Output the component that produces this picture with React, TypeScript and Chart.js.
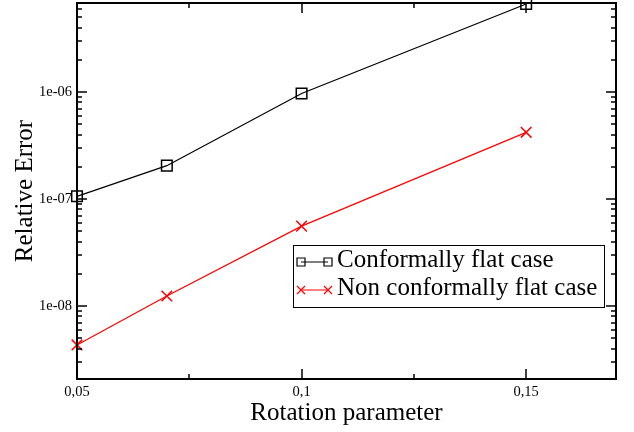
import React, { useEffect, useRef } from 'react';
import { Chart, registerables } from 'chart.js';

Chart.register(...registerables);

const rotation = [0.05, 0.07, 0.1, 0.15];
const conformal = [1.06e-7, 2.05e-7, 9.7e-7, 6.64e-6];
const nonConformal = [4.33e-9, 1.24e-8, 5.58e-8, 4.2e-7];
const seriesLabels = ['Conformally flat case', 'Non conformally flat case'];
const seriesColors = ['#000000', '#ff0000'];
const xMajorTicks = [0.05, 0.1, 0.15];
const xMinorTicks = [0.075, 0.125];
const xRange = [0.05, 0.17];
const yRange = [2.08e-9, 6.79e-6];
const xTitle = 'Rotation parameter';
const yTitle = 'Relative Error';

const FONT = "'Liberation Serif', 'Times New Roman', serif";
const SHIFT = 6; // canvas is drawn 6px above the page top

function drawMarker(ctx: CanvasRenderingContext2D, kind: string, x: number, y: number, half: number) {
  ctx.beginPath();
  if (kind === 'rect') {
    ctx.rect(x - half, y - half, half * 2, half * 2);
  } else {
    ctx.moveTo(x - half, y - half);
    ctx.lineTo(x + half, y + half);
    ctx.moveTo(x + half, y - half);
    ctx.lineTo(x - half, y + half);
  }
  ctx.stroke();
}

const framePlugin = {
  id: 'frameTicksLegend',
  afterDraw(chart: any) {
    const { ctx, chartArea: a, scales } = chart;
    ctx.save();
    ctx.strokeStyle = '#000';
    ctx.lineWidth = 2;
    ctx.strokeRect(a.left, a.top, a.right - a.left, a.bottom - a.top);

    ctx.lineWidth = 1.5;
    const seg = (x1: number, y1: number, x2: number, y2: number) => {
      ctx.beginPath();
      ctx.moveTo(x1, y1);
      ctx.lineTo(x2, y2);
      ctx.stroke();
    };
    for (const t of scales.x.ticks) {
      const px = Math.round(scales.x.getPixelForValue(t.value));
      const len = t.major ? 10 : 5;
      seg(px, a.bottom, px, a.bottom - len);
      seg(px, a.top, px, a.top + len);
    }
    for (const t of scales.y.ticks) {
      const py = Math.round(scales.y.getPixelForValue(t.value));
      if (py < a.top + 1 || py > a.bottom - 1) continue;
      const len = t.major ? 10 : 5;
      seg(a.left, py, a.left + len, py);
      seg(a.right, py, a.right - len, py);
    }

    // legend
    const bx = 293, by = 245 + SHIFT, bw = 311, bh = 62;
    ctx.fillStyle = '#fff';
    ctx.fillRect(bx, by, bw, bh);
    ctx.lineWidth = 1;
    ctx.strokeStyle = '#000';
    ctx.strokeRect(bx + 0.5, by + 0.5, bw, bh);
    const rows = [262 + SHIFT, 290 + SHIFT];
    chart.data.datasets.forEach((ds: any, i: number) => {
      const y = rows[i];
      ctx.strokeStyle = ds.borderColor;
      ctx.lineWidth = 1;
      seg(301, y, 328, y);
      ctx.lineWidth = 1.2;
      drawMarker(ctx, ds.pointStyle, 301, y, 4);
      drawMarker(ctx, ds.pointStyle, 328, y, 4);
      ctx.fillStyle = '#000';
      ctx.font = `25px ${FONT}`;
      ctx.textBaseline = 'middle';
      ctx.textAlign = 'left';
      ctx.fillText(ds.label, 337, y - 1.5);
    });
    ctx.restore();
  },
};

export default function App() {
  const ref = useRef<HTMLCanvasElement | null>(null);

  useEffect(() => {
    if (!ref.current) return;
    const chart = new Chart(ref.current, {
      type: 'line',
      data: {
        datasets: [
          {
            label: seriesLabels[0],
            data: rotation.map((x, i) => ({ x, y: conformal[i] })),
            borderColor: seriesColors[0],
            borderWidth: 1.2,
            pointStyle: 'rect',
            pointRadius: 7.5,
            pointBorderWidth: 1.5,
            pointBackgroundColor: 'rgba(0,0,0,0)',
            pointBorderColor: seriesColors[0],
            clip: false,
            tension: 0,
          },
          {
            label: seriesLabels[1],
            data: rotation.map((x, i) => ({ x, y: nonConformal[i] })),
            borderColor: seriesColors[1],
            borderWidth: 1.2,
            pointStyle: 'crossRot',
            pointRadius: 7.5,
            pointBorderWidth: 1.5,
            pointBorderColor: seriesColors[1],
            clip: false,
            tension: 0,
          },
        ],
      } as any,
      options: {
        animation: false,
        responsive: false,
        devicePixelRatio: 1,
        layout: { padding: { left: 0, top: 3, right: 18, bottom: 0 } },
        plugins: {
          legend: { display: false },
          tooltip: { enabled: false },
        },
        scales: {
          x: {
            type: 'linear',
            min: xRange[0],
            max: xRange[1],
            grid: { display: false, drawTicks: false },
            border: { display: false },
            afterBuildTicks: (scale: any) => {
              scale.ticks = [
                ...xMajorTicks.map((v) => ({ value: v, major: true })),
                ...xMinorTicks.map((v) => ({ value: v, major: false })),
              ].sort((p, q) => p.value - q.value);
            },
            afterFit: (scale: any) => {
              scale.height = 53;
              scale.paddingLeft = 0;
              scale.paddingRight = 0;
            },
            ticks: {
              autoSkip: false,
              maxRotation: 0,
              padding: 4,
              color: '#000',
              font: { family: FONT, size: 14.5 },
              callback: (v: any) =>
                xMajorTicks.some((m) => Math.abs(m - Number(v)) < 1e-9)
                  ? String(Number(v)).replace('.', ',')
                  : '',
            },
            title: {
              display: true,
              text: xTitle,
              color: '#000',
              font: { family: FONT, size: 25 },
              padding: { top: 0, bottom: 4 },
            },
          },
          y: {
            type: 'logarithmic',
            min: yRange[0],
            max: yRange[1],
            grid: { display: false, drawTicks: false },
            border: { display: false },
            afterBuildTicks: (scale: any) => {
              const ticks: any[] = [];
              const lo = Math.floor(Math.log10(scale.min));
              const hi = Math.ceil(Math.log10(scale.max));
              for (let e = lo; e <= hi; e++) {
                for (let m = 1; m <= 9; m++) {
                  const v = m * Math.pow(10, e);
                  if (v >= scale.min && v <= scale.max) ticks.push({ value: v, major: m === 1 });
                }
              }
              scale.ticks = ticks;
            },
            afterFit: (scale: any) => {
              scale.width = 77;
              scale.paddingTop = 0;
              scale.paddingBottom = 0;
            },
            ticks: {
              autoSkip: false,
              padding: 5,
              color: '#000',
              font: { family: FONT, size: 14.5 },
              callback: (v: any) => {
                const e = Math.log10(Number(v));
                if (Math.abs(e - Math.round(e)) > 1e-6) return '';
                const n = Math.round(e);
                const s = String(Math.abs(n)).padStart(2, '0');
                return `1e${n < 0 ? '-' : '+'}${s}`;
              },
            },
            title: {
              display: true,
              text: yTitle,
              color: '#000',
              font: { family: FONT, size: 25 },
              padding: { top: 10, bottom: 0 },
            },
          },
        },
      } as any,
      plugins: [framePlugin],
    });
    return () => chart.destroy();
  }, []);

  return (
    <div
      style={{
        position: 'absolute',
        left: 0,
        top: 0,
        width: 634,
        height: 432,
        overflow: 'hidden',
        background: '#fff',
      }}
    >
      <canvas
        ref={ref}
        width={634}
        height={432 + SHIFT}
        style={{ display: 'block', position: 'absolute', left: 0, top: -SHIFT }}
      />
    </div>
  );
}
